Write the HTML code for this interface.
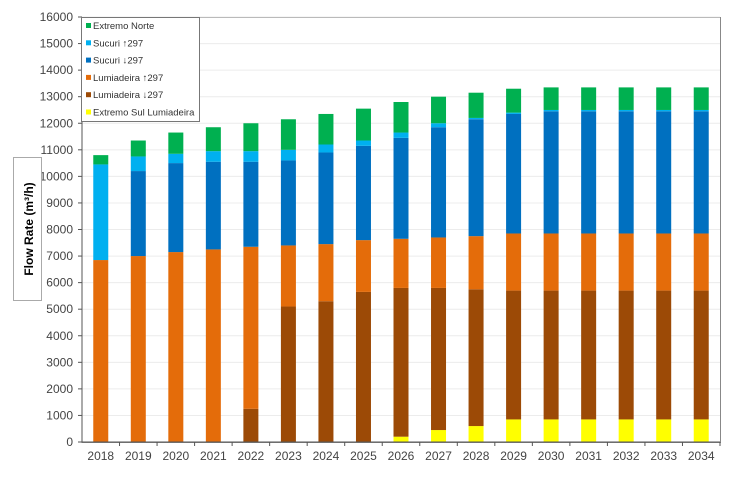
<!DOCTYPE html>
<html><head><meta charset="utf-8"><style>
body{margin:0;background:#fff;}
svg text{font-family:"Liberation Sans",Arial,sans-serif;}
</style></head><body>
<svg id="chart" width="732" height="473">
<g id="grid"></g>
<g id="bars"></g>
<g id="axes"></g>
<g>
<rect x="81.5" y="17.5" width="118" height="104" fill="#fff" stroke="#777"/>
<g id="legend"></g>
</g>
<g>
<rect x="13.5" y="157.5" width="28" height="143" fill="#fff" stroke="#aaa"/>
<text x="33" y="229" transform="rotate(-90 33 229)" text-anchor="middle" font-size="12" font-weight="bold" fill="#000">Flow Rate (m³/h)</text>
</g>
</svg>
<script>
const years=["2018","2019","2020","2021","2022","2023","2024","2025","2026","2027","2028","2029","2030","2031","2032","2033","2034"];
const extremoSul=[0,0,0,0,0,0,0,0,200,450,600,850,850,850,850,850,850];
const lumiadeiraDown=[0,0,0,0,1250,5100,5300,5650,5600,5350,5150,4850,4850,4850,4850,4850,4850];
const lumiadeiraUp=[6850,7000,7150,7250,6100,2300,2150,1950,1850,1900,2000,2150,2150,2150,2150,2150,2150];
const sucuriDown=[0,3200,3350,3300,3200,3200,3450,3550,3800,4150,4400,4500,4600,4600,4600,4600,4600];
const sucuriUp=[3600,550,350,400,400,400,300,200,200,150,50,50,50,50,50,50,50];
const extremoNorte=[350,600,800,900,1050,1150,1150,1200,1150,1000,950,900,850,850,850,850,850];
const yTicks=[0,1000,2000,3000,4000,5000,6000,7000,8000,9000,10000,11000,12000,13000,14000,15000,16000];
const seriesNames=["Extremo Sul Lumiadeira","Lumiadeira ↓297","Lumiadeira ↑297","Sucuri ↓297","Sucuri ↑297","Extremo Norte"];
const seriesColors=["#ffff00","#9c4a06","#e46c0a","#0070c0","#00b0f0","#00b050"];
const series=[extremoSul,lumiadeiraDown,lumiadeiraUp,sucuriDown,sucuriUp,extremoNorte];
const X0=82,X1=720,Y0=442,Y1=17,YMAX=16000;
const bw=(X1-X0)/years.length;
const y=v=>Y0-(v/YMAX)*(Y0-Y1);
const xc=i=>X0+bw*(i+0.5);
const NS="http://www.w3.org/2000/svg";
function mk(tag,attrs,parent){const e=document.createElementNS(NS,tag);for(const k in attrs)e.setAttribute(k,attrs[k]);parent.appendChild(e);return e;}
const grid=document.getElementById('grid'),bars=document.getElementById('bars'),axes=document.getElementById('axes'),leg=document.getElementById('legend');
mk('rect',{x:X0,y:Y1+0.5,width:X1-X0+0.5,height:Y0-Y1,fill:'none',stroke:'#888'},grid);
yTicks.forEach(t=>{
 const g=mk('line',{x1:X0,x2:X1,y1:y(t),y2:y(t),stroke:'#ececec'},grid);
 
 
 mk('line',{x1:X0-4,x2:X0,y1:y(t),y2:y(t),stroke:'#555'},axes);
 const tx=mk('text',{x:X0-9,y:y(t)+4,'text-anchor':'end','font-size':12,fill:'#444'},axes);
 tx.textContent=t;
 
 
});
years.forEach((yr,i)=>{
 let acc=0;
 series.forEach((s,k)=>{
  const v=s[i];if(v>0){
   const r=mk('rect',{x:xc(i)-7.5,y:y(acc+v),width:15,height:y(acc)-y(acc+v),fill:seriesColors[k]},bars);
   
   
  }
  acc+=v;
 });
 mk('line',{x1:X0+bw*(i+1),x2:X0+bw*(i+1),y1:Y0,y2:Y0+4,stroke:'#555'},axes);
 const tx=mk('text',{x:xc(i),y:Y0+18,'text-anchor':'middle','font-size':12,fill:'#444'},axes);
 tx.textContent=yr;
 
 
});
mk('line',{x1:X0,x2:X0,y1:Y1,y2:Y0,stroke:'#555'},axes);
mk('line',{x1:X0-4,x2:X1,y1:Y0,y2:Y0,stroke:'#555'},axes);
const legOrder=[5,4,3,2,1,0];
legOrder.forEach((k,j)=>{
 const yy=26+j*17.3;
 mk('rect',{x:86,y:yy-3,width:5,height:5,fill:seriesColors[k]},leg);
 const tx=mk('text',{x:93,y:yy+3,'font-size':9.5,fill:'#333'},leg);
 tx.textContent=seriesNames[k];
 
 
});
</script>
</body></html>
